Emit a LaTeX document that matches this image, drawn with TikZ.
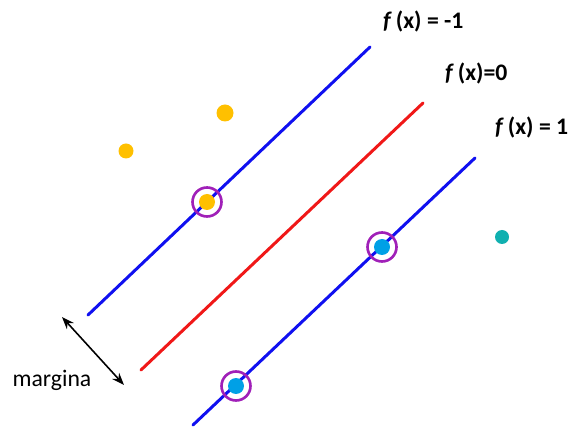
\documentclass[tikz,border=0pt]{standalone}
\usepackage{fontspec}
\setmainfont{Carlito}
\usetikzlibrary{arrows.meta}
\definecolor{linieblue}{HTML}{1010F0}
\definecolor{liniered}{HTML}{F01818}
\definecolor{punctyellow}{HTML}{FFC000}
\definecolor{punctblue}{HTML}{00A0E6}
\definecolor{puncteal}{HTML}{10B0B0}
\definecolor{suportring}{HTML}{A020B8}

\begin{document}
\begin{tikzpicture}[
    x=0.02cm, y=-0.02cm,
    hiper/.style={line width=1.7pt, line cap=round},
    punct/.style={circle, inner sep=0pt, minimum size=#1},
    ring/.style={draw=suportring, line width=1.5pt, circle, inner sep=0pt, minimum size=0.58cm},
    eticheta/.style={font=\bfseries\fontsize{13.5}{15}\selectfont, anchor=west}
]
  \useasboundingbox (0,0) rectangle (571,428);

  % hiperplanele
  \draw[hiper, linieblue] (88,315) -- (370,47);
  \draw[hiper, liniered] (141,370) -- (423,103);
  \draw[hiper, linieblue] (193,425) -- (475,158);

  % etichete
  \node[eticheta] (fm1) at (377,22) {\textit{f}\,(x) = -1};
  \node[eticheta] (f0) at (439,73) {\textit{f}\,(x)=0};
  \node[eticheta] (fp1) at (489,127) {\textit{f}\,(x) = 1};

  % puncte clasa 1
  \node[punct=0.3cm, fill=punctyellow] (y1) at (126,151) {};
  \node[punct=0.34cm, fill=punctyellow] (y2) at (225,113) {};
  \node[punct=0.32cm, fill=punctyellow] (y3) at (207,202) {};

  % puncte clasa 2
  \node[punct=0.32cm, fill=punctblue] (b1) at (382,247) {};
  \node[punct=0.32cm, fill=punctblue] (b2) at (236,386) {};
  \node[punct=0.28cm, fill=puncteal] (b3) at (502,237) {};

  % vectori suport
  \node[ring] (s1) at (y3) {};
  \node[ring] (s2) at (b1) {};
  \node[ring] (s3) at (b2) {};

  % margina
  \coordinate (m1) at (62,317);
  \coordinate (m2) at (124,385);
  \draw[{Stealth[length=7pt]}-{Stealth[length=7pt]}, line width=0.9pt] (m1) -- (m2);
  \node[font=\fontsize{13.5}{15}\selectfont] (marg) at (52,380) {margina};

\end{tikzpicture}
\end{document}
